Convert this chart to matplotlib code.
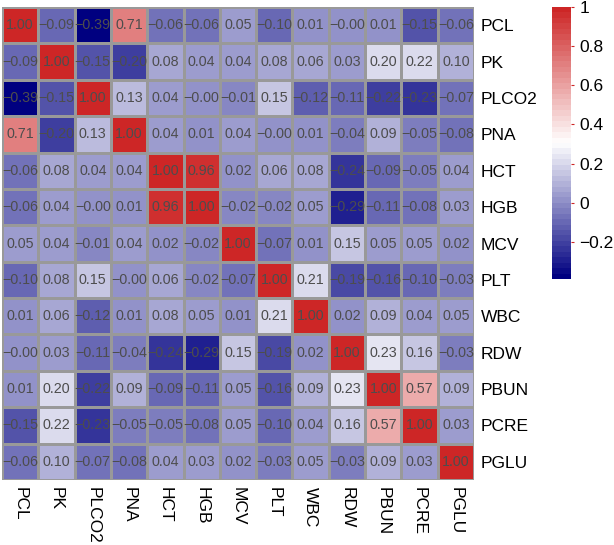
import numpy as np
import matplotlib
import matplotlib.pyplot as plt
from matplotlib.colors import LinearSegmentedColormap, BoundaryNorm

plt.rcParams['font.family'] = ['Liberation Sans', 'DejaVu Sans']

labels = ['PCL', 'PK', 'PLCO2', 'PNA', 'HCT', 'HGB', 'MCV', 'PLT', 'WBC',
          'RDW', 'PBUN', 'PCRE', 'PGLU']

# correlation matrix, row by row
corr = np.array([
    [1.00, -0.09, -0.39, 0.71, -0.06, -0.06, 0.05, -0.10, 0.01, -0.00, 0.01, -0.15, -0.06],
    [-0.09, 1.00, -0.15, -0.20, 0.08, 0.04, 0.04, 0.08, 0.06, 0.03, 0.20, 0.22, 0.10],
    [-0.39, -0.15, 1.00, 0.13, 0.04, -0.00, -0.01, 0.15, -0.12, -0.11, -0.22, -0.23, -0.07],
    [0.71, -0.20, 0.13, 1.00, 0.04, 0.01, 0.04, -0.00, 0.01, -0.04, 0.09, -0.05, -0.08],
    [-0.06, 0.08, 0.04, 0.04, 1.00, 0.96, 0.02, 0.06, 0.08, -0.24, -0.09, -0.05, 0.04],
    [-0.06, 0.04, -0.00, 0.01, 0.96, 1.00, -0.02, -0.02, 0.05, -0.29, -0.11, -0.08, 0.03],
    [0.05, 0.04, -0.01, 0.04, 0.02, -0.02, 1.00, -0.07, 0.01, 0.15, 0.05, 0.05, 0.02],
    [-0.10, 0.08, 0.15, -0.00, 0.06, -0.02, -0.07, 1.00, 0.21, -0.19, -0.16, -0.10, -0.03],
    [0.01, 0.06, -0.12, 0.01, 0.08, 0.05, 0.01, 0.21, 1.00, 0.02, 0.09, 0.04, 0.05],
    [-0.00, 0.03, -0.11, -0.04, -0.24, -0.29, 0.15, -0.19, 0.02, 1.00, 0.23, 0.16, -0.03],
    [0.01, 0.20, -0.22, 0.09, -0.09, -0.11, 0.05, -0.16, 0.09, 0.23, 1.00, 0.57, 0.09],
    [-0.15, 0.22, -0.23, -0.05, -0.05, -0.08, 0.05, -0.10, 0.04, 0.16, 0.57, 1.00, 0.03],
    [-0.06, 0.10, -0.07, -0.08, 0.04, 0.03, 0.02, -0.03, 0.05, -0.03, 0.09, 0.03, 1.00],
])

cbar_ticks = [-0.2, 0, 0.2, 0.4, 0.6, 0.8, 1]
cbar_labels = ['\u22120.2', '0', '0.2', '0.4', '0.6', '0.8', '1']

# pheatmap style palette: navy - white - firebrick3, 50 steps
cmap = LinearSegmentedColormap.from_list('nwr', ['#000080', '#FFFFFF', '#CD2626'], N=50)
vmin, vmax = corr.min(), corr.max()
bounds = np.linspace(vmin, vmax, 51)
norm = BoundaryNorm(bounds, cmap.N)

W, H = 614, 545
fig = plt.figure(figsize=(W / 100, H / 100), dpi=100)

ax = fig.add_axes([2 / W, (H - 480) / H, 472 / W, 473 / H])
n = len(labels)
ax.pcolormesh(np.arange(n + 1), np.arange(n + 1), corr, cmap=cmap, norm=norm,
              edgecolor='#999999', linewidth=1)
ax.set_xlim(0, n)
ax.set_ylim(n, 0)
for i in range(n):
    for j in range(n):
        txt = ('%.2f' % corr[i, j]).replace('-', '\u2212')
        ax.text(j + 0.5, i + 0.5, txt, ha='center', va='center',
                fontsize=10.3, color='#4D4D4D')

ax.set_xticks(np.arange(n) + 0.5)
ax.set_xticklabels(labels, rotation=270, fontsize=12.5)
ax.set_yticks(np.arange(n) + 0.5)
ax.set_yticklabels(labels, fontsize=12.5)
ax.yaxis.tick_right()
ax.tick_params(length=0, pad=5)
for s in ax.spines.values():
    s.set_visible(False)

# colour legend
cax = fig.add_axes([552 / W, (H - 279) / H, 19 / W, 272 / H])
grad = np.linspace(vmin, vmax, 200).reshape(-1, 1)
cax.pcolormesh([0, 1], np.linspace(vmin, vmax, 201), grad, cmap=cmap, norm=norm)
cax.set_ylim(vmin, vmax)
cax.set_xticks([])
cax.set_yticks(cbar_ticks)
cax.set_yticklabels(cbar_labels, fontsize=12.5)
cax.yaxis.tick_right()
cax.tick_params(length=2, color='#CD2626', pad=4)
for s in cax.spines.values():
    s.set_visible(False)

fig.savefig('out.png', dpi=100)
